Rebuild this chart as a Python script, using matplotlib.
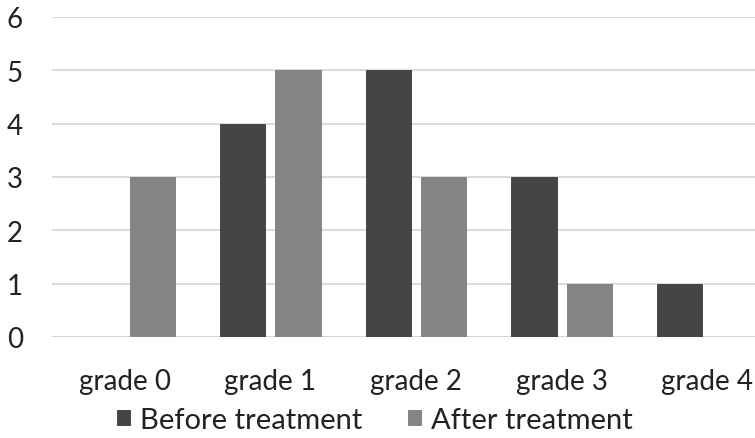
import matplotlib
matplotlib.use("Agg")
import matplotlib.pyplot as plt
import numpy as np

categories = ["grade 0", "grade 1", "grade 2", "grade 3", "grade 4"]
before = [0, 4, 5, 3, 1]
after = [3, 5, 3, 1, 0]
series_names = ["Before treatment", "After treatment"]
yticks = [0, 1, 2, 3, 4, 5, 6]

plt.rcParams['font.family'] = ['Lato', 'DejaVu Sans']

fig = plt.figure(figsize=(7.55, 4.39), dpi=100)
ax = fig.add_axes([52/755, 101/439, 728/755, 320/439])

x = np.arange(len(categories))
w = 0.31
off = 0.19
c_before = "#454545"
c_after = "#858585"
ax.bar(x - off, before, w, color=c_before, edgecolor="#3a3a3a", linewidth=0.6, zorder=3, label=series_names[0])
ax.bar(x + off, after, w, color=c_after, edgecolor="#7a7a7a", linewidth=0.6, zorder=3, label=series_names[1])

ax.set_xlim(-0.5, len(categories) - 0.5)
ax.set_ylim(0, 6)
ax.set_yticks(yticks)
ax.set_yticklabels([str(t) for t in yticks], fontsize=20, color="#222222")
ax.set_xticks(x)
ax.set_xticklabels(categories, fontsize=20, color="#222222")
ax.tick_params(axis='both', length=0)
ax.tick_params(axis='y', pad=21)
ax.tick_params(axis='x', pad=22)
ax.grid(axis='y', color="#d4d4d4", linewidth=1.2, zorder=0)
for s in ax.spines.values():
    s.set_visible(False)
ax.axhline(0, color="#d4d4d4", linewidth=1.2, zorder=1)

leg = fig.legend(loc='center left', bbox_to_anchor=(117/755, 1 - 421/439), ncol=2,
                 frameon=False, fontsize=21, handlelength=0.45, handleheight=0.45,
                 handletextpad=0.35, columnspacing=1.55, labelcolor="#222222",
                 borderaxespad=0, borderpad=0)

fig.savefig("out.png", dpi=100)
